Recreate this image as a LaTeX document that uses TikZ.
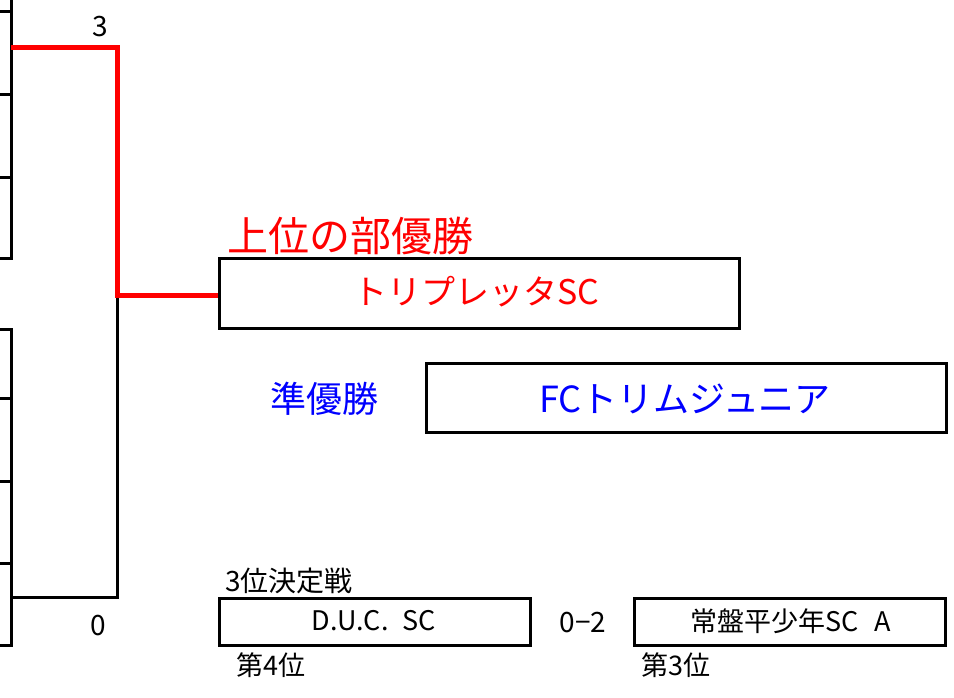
\documentclass[tikz,border=0pt]{standalone}
\usepackage{fontspec}
\setmainfont{Noto Sans CJK JP}
\newcommand{\fsz}[1]{\fontsize{#1pt}{#1pt}\selectfont}
\begin{document}
\begin{tikzpicture}[x=1pt,y=-1pt,
  bline/.style={line width=3pt,line cap=rect},
  rline/.style={line width=5pt,draw=red},
  teambox/.style={draw,line width=3pt,inner sep=0pt,rectangle},
  lbl/.style={inner sep=0pt,anchor=center}]
\useasboundingbox (0,0) rectangle (954,697);
% bracket coordinates
\coordinate (ut) at (11,0);
\coordinate (ub) at (11,258);
\coordinate (lt) at (11,329);
\coordinate (lb) at (11,645);
\coordinate (r0) at (11,47);
\coordinate (r1) at (117,47);
\coordinate (r2) at (117,295);
\coordinate (b0) at (11,597);
\coordinate (b1) at (117,597);
% left bracket lines
\draw[bline] (ut) -- (ub);
\draw[bline] (lt) -- (lb);
\foreach \y in {11,94,177,258,329,398,481,563,645}{
  \draw[bline] (0,\y) -- (11,\y);
}
% boxes
\node[teambox,minimum width=520pt,minimum height=70pt] (win) at (479,293) {};
\node[teambox,minimum width=520pt,minimum height=69pt] (ru) at (686,397.5) {};
\node[teambox,minimum width=311pt,minimum height=47pt] (duc) at (374.5,621.5) {};
\node[teambox,minimum width=311pt,minimum height=47pt] (tok) at (789.5,621.5) {};
% connectors
\draw[bline] (b0) -- (b1) -- (r2);
\draw[rline] (r0) -- (r1) -- (r2) -- (r2 -| win.west);
% texts
\node[lbl] (s3) at (100,27) {\fsz{28}3};
\node[lbl] (s0) at (98,626) {\fsz{28}0};
\node[lbl,text=red] (champ) at (350,236) {\fsz{41}上位の部優勝};
\node[lbl,text=red] (wint) at (476,292) {\fsz{34}トリプレッタSC};
\node[lbl,text=blue] (runl) at (324,399) {\fsz{36}準優勝};
\node[lbl,text=blue] (runt) at (685,399) {\fsz{36}FCトリムジュニア};
\node[lbl] (third) at (289,581) {\fsz{28}3位決定戦};
\node[lbl] (duct) at (374,621) {\fsz{27}D.U.C.\hspace{14pt}SC};
\node[lbl] (score) at (583,623) {\fsz{28}0−2};
\node[lbl] (tokt) at (791,621) {\fsz{27}常盤平少年SC\hspace{16pt}A};
\node[lbl] (p4) at (271,665) {\fsz{27}第4位};
\node[lbl] (p3) at (676,665) {\fsz{27}第3位};
\end{tikzpicture}
\end{document}
